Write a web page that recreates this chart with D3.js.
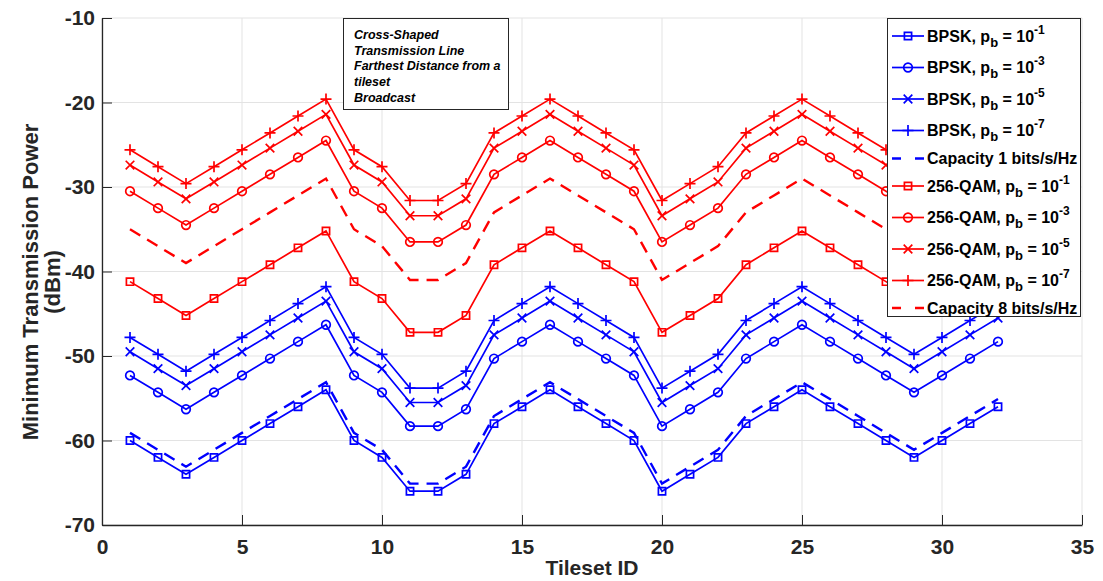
<!DOCTYPE html>
<html><head><meta charset="utf-8">
<script src="https://cdn.jsdelivr.net/npm/d3@7"></script>
<style>body{margin:0;background:#fff;} svg{display:block;font-family:"Liberation Sans",Arial,sans-serif;}</style>
</head><body>
<svg id="c" width="1103" height="581"></svg>
<script>
const tilesetIds = d3.range(1, 33);
const xTicks = [0,5,10,15,20,25,30,35];
const yTicks = [-10,-20,-30,-40,-50,-60,-70];

const bpsk1 = [-60,-62,-64,-62,-60,-58,-56,-54,-60,-62,-66,-66,-64,-58,-56,-54,-56,-58,-60,-66,-64,-62,-58,-56,-54,-56,-58,-60,-62,-60,-58,-56];
const bpsk3 = [-52.3,-54.3,-56.3,-54.3,-52.3,-50.3,-48.3,-46.3,-52.3,-54.3,-58.3,-58.3,-56.3,-50.3,-48.3,-46.3,-48.3,-50.3,-52.3,-58.3,-56.3,-54.3,-50.3,-48.3,-46.3,-48.3,-50.3,-52.3,-54.3,-52.3,-50.3,-48.3];
const bpsk5 = [-49.5,-51.5,-53.5,-51.5,-49.5,-47.5,-45.5,-43.5,-49.5,-51.5,-55.5,-55.5,-53.5,-47.5,-45.5,-43.5,-45.5,-47.5,-49.5,-55.5,-53.5,-51.5,-47.5,-45.5,-43.5,-45.5,-47.5,-49.5,-51.5,-49.5,-47.5,-45.5];
const bpsk7 = [-47.8,-49.8,-51.8,-49.8,-47.8,-45.8,-43.8,-41.8,-47.8,-49.8,-53.8,-53.8,-51.8,-45.8,-43.8,-41.8,-43.8,-45.8,-47.8,-53.8,-51.8,-49.8,-45.8,-43.8,-41.8,-43.8,-45.8,-47.8,-49.8,-47.8,-45.8,-43.8];
const cap1 = [-59.1,-61.1,-63.1,-61.1,-59.1,-57.1,-55.1,-53.1,-59.1,-61.1,-65.1,-65.1,-63.1,-57.1,-55.1,-53.1,-55.1,-57.1,-59.1,-65.1,-63.1,-61.1,-57.1,-55.1,-53.1,-55.1,-57.1,-59.1,-61.1,-59.1,-57.1,-55.1];
const qam1 = [-41.2,-43.2,-45.2,-43.2,-41.2,-39.2,-37.2,-35.2,-41.2,-43.2,-47.2,-47.2,-45.2,-39.2,-37.2,-35.2,-37.2,-39.2,-41.2,-47.2,-45.2,-43.2,-39.2,-37.2,-35.2,-37.2,-39.2,-41.2,-43.2,-41.2,-39.2,-37.2];
const qam3 = [-30.5,-32.5,-34.5,-32.5,-30.5,-28.5,-26.5,-24.5,-30.5,-32.5,-36.5,-36.5,-34.5,-28.5,-26.5,-24.5,-26.5,-28.5,-30.5,-36.5,-34.5,-32.5,-28.5,-26.5,-24.5,-26.5,-28.5,-30.5,-32.5,-30.5,-28.5,-26.5];
const qam5 = [-27.4,-29.4,-31.4,-29.4,-27.4,-25.4,-23.4,-21.4,-27.4,-29.4,-33.4,-33.4,-31.4,-25.4,-23.4,-21.4,-23.4,-25.4,-27.4,-33.4,-31.4,-29.4,-25.4,-23.4,-21.4,-23.4,-25.4,-27.4,-29.4,-27.4,-25.4,-23.4];
const qam7 = [-25.6,-27.6,-29.6,-27.6,-25.6,-23.6,-21.6,-19.6,-25.6,-27.6,-31.6,-31.6,-29.6,-23.6,-21.6,-19.6,-21.6,-23.6,-25.6,-31.6,-29.6,-27.6,-23.6,-21.6,-19.6,-21.6,-23.6,-25.6,-27.6,-25.6,-23.6,-21.6];
const cap8 = [-35,-37,-39,-37,-35,-33,-31,-29,-35,-37,-41,-41,-39,-33,-31,-29,-31,-33,-35,-41,-39,-37,-33,-31,-29,-31,-33,-35,-37,-35,-33,-31];

const seriesNames = ["BPSK","BPSK","BPSK","BPSK","Capacity 1 bits/s/Hz","256-QAM","256-QAM","256-QAM","256-QAM","Capacity 8 bits/s/Hz"];
const seriesExp = ["-1","-3","-5","-7",null,"-1","-3","-5","-7",null];
const seriesData = [bpsk1,bpsk3,bpsk5,bpsk7,cap1,qam1,qam3,qam5,qam7,cap8];
const seriesMarker = ["square","circle","x","plus",null,"square","circle","x","plus",null];
const seriesColor = ["#0000ff","#0000ff","#0000ff","#0000ff","#0000ff","#ff0000","#ff0000","#ff0000","#ff0000","#ff0000"];
const annotationLines = ["Cross-Shaped","Transmission Line","Farthest Distance from a","tileset","Broadcast"];

const svg = d3.select("#c");
const L = 102, R = 1082, T = 18, B = 525;
const x = d3.scaleLinear().domain([0,35]).range([L,R]);
const y = d3.scaleLinear().domain([-70,-10]).range([B,T]);
const axisCol = "#262626";

// grid
const g = svg.append("g");
g.selectAll(".gx").data(xTicks).enter().append("line")
  .attr("x1",d=>x(d)).attr("x2",d=>x(d)).attr("y1",T).attr("y2",B)
  .attr("stroke","#e3e3e3").attr("stroke-width",1);
g.selectAll(".gy").data(yTicks).enter().append("line")
  .attr("y1",d=>y(d)).attr("y2",d=>y(d)).attr("x1",L).attr("x2",R)
  .attr("stroke","#e3e3e3").attr("stroke-width",1);

// axes
const xa = svg.append("g").attr("transform",`translate(0,${B})`)
  .call(d3.axisBottom(x).tickValues(xTicks).tickSizeInner(-10).tickSizeOuter(0).tickPadding(14).tickFormat(d3.format("d")));
const ya = svg.append("g").attr("transform",`translate(${L},0)`)
  .call(d3.axisLeft(y).tickValues(yTicks).tickSizeInner(-10).tickSizeOuter(0).tickPadding(7).tickFormat(d=>String(d)));
[xa,ya].forEach(a=>{
  a.select(".domain").attr("stroke",axisCol).attr("stroke-width",1.3);
  a.selectAll(".tick line").attr("stroke",axisCol).attr("stroke-width",1);
  a.selectAll("text").attr("fill","#262626").attr("font-size",21).attr("font-weight","bold")
    .attr("font-family","'Liberation Sans',Arial,sans-serif");
});

// labels
svg.append("text").attr("x",(L+R)/2).attr("y",575).attr("text-anchor","middle")
  .attr("font-size",21).attr("font-weight","bold").attr("fill","#262626").text("Tileset ID");
const yl = svg.append("text").attr("transform",`translate(38,282) rotate(-90)`)
  .attr("text-anchor","middle").attr("font-size",22).attr("font-weight","bold").attr("fill","#262626");
yl.append("tspan").attr("x",0).attr("dy",0).text("Minimum Transmission Power");
yl.append("tspan").attr("x",0).attr("dy",22).text("(dBm)");

function markerPath(type){
  switch(type){
    case "square": return "M-3.6,-3.6H3.6V3.6H-3.6Z";
    case "circle": return "M4.3,0A4.3,4.3 0 1 1 -4.3,0A4.3,4.3 0 1 1 4.3,0Z";
    case "x": return "M-4.3,-4.3L4.3,4.3M-4.3,4.3L4.3,-4.3";
    case "plus": return "M-5.5,0H5.5M0,-5.5V5.5";
  }
  return "";
}

const line = d3.line().x((d,i)=>x(tilesetIds[i])).y(d=>y(d));
const plot = svg.append("g");
seriesData.forEach((data,k)=>{
  const dashed = seriesMarker[k]===null;
  plot.append("path").datum(data).attr("d",line).attr("fill","none")
    .attr("stroke",seriesColor[k]).attr("stroke-width",dashed?2.4:1.7)
    .attr("stroke-dasharray",dashed?"12,8":null).attr("stroke-linejoin","miter");
  if(!dashed){
    plot.selectAll(null).data(data).enter().append("path")
      .attr("transform",(d,i)=>`translate(${x(tilesetIds[i])},${y(d)})`)
      .attr("d",markerPath(seriesMarker[k])).attr("fill","none")
      .attr("stroke",seriesColor[k]).attr("stroke-width",1.7);
  }
});

// annotation box
const ann = svg.append("g");
ann.append("rect").attr("x",343.5).attr("y",18.5).attr("width",165).attr("height",91)
  .attr("fill","#fff").attr("stroke",axisCol).attr("stroke-width",1);
annotationLines.forEach((t,i)=>{
  ann.append("text").attr("x",354).attr("y",39+i*15.7).attr("font-size",12.5)
    .attr("font-weight","bold").attr("font-style","italic").attr("fill","#000").text(t);
});

// legend
const leg = svg.append("g");
leg.append("rect").attr("x",887.5).attr("y",18.5).attr("width",193).attr("height",298)
  .attr("fill","#fff").attr("stroke",axisCol).attr("stroke-width",1);
const rowY = [36,67.5,99,130.5,158.5,186,217.5,249,280.5,308];
seriesNames.forEach((name,k)=>{
  const cy = rowY[k];
  const dashed = seriesMarker[k]===null;
  leg.append("line").attr("x1",892).attr("x2",924).attr("y1",cy).attr("y2",cy)
    .attr("stroke",seriesColor[k]).attr("stroke-width",dashed?2.4:1.7)
    .attr("stroke-dasharray",dashed?"9,14":null);
  if(!dashed){
    leg.append("path").attr("transform",`translate(908,${cy})`).attr("d",markerPath(seriesMarker[k]))
      .attr("fill","none").attr("stroke",seriesColor[k]).attr("stroke-width",1.7);
  }
  const t = leg.append("text").attr("x",927).attr("y",cy+5.5).attr("font-size",16)
    .attr("font-weight","bold").attr("fill","#000");
  if(seriesExp[k]===null){
    t.text(name);
  } else {
    t.append("tspan").text(name+", p");
    t.append("tspan").attr("font-size",13).attr("dy",5).text("b");
    t.append("tspan").attr("dy",-5).text(" = 10");
    t.append("tspan").attr("font-size",12).attr("dy",-8).text(seriesExp[k]);
  }
});
</script>
</body></html>
